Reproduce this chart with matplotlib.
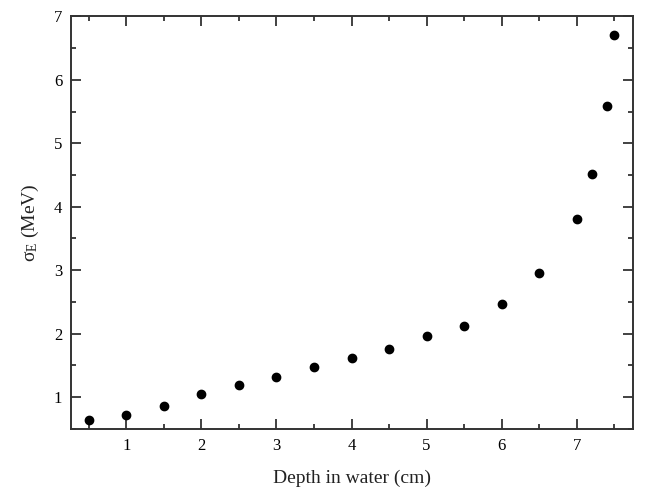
import matplotlib
matplotlib.use("Agg")
import matplotlib.pyplot as plt
from matplotlib.ticker import MultipleLocator

depth = [0.5, 1.0, 1.5, 2.0, 2.5, 3.0, 3.5, 4.0, 4.5, 5.0, 5.5, 6.0, 6.5, 7.0, 7.2, 7.4, 7.5]
sigma_e = [0.63, 0.71, 0.85, 1.05, 1.19, 1.31, 1.48, 1.62, 1.76, 1.96, 2.12, 2.47, 2.96, 3.81, 4.52, 5.58, 6.71]

plt.rcParams.update(
    {
        "font.family": ["Liberation Serif", "DejaVu Serif"],
        "mathtext.fontset": "custom",
        "mathtext.rm": "Liberation Serif",
        "mathtext.it": "Liberation Serif",
    }
)

fig = plt.figure(figsize=(6.52, 4.92), dpi=100)
ax = fig.add_axes([0.1084, 0.1287, 0.862, 0.838])

ax.plot(depth, sigma_e, "o", color="black", markersize=6)

ax.set_xlim(0.26, 7.745)
ax.set_ylim(0.5, 7.0)
ax.xaxis.set_major_locator(MultipleLocator(1))
ax.xaxis.set_minor_locator(MultipleLocator(0.5))
ax.yaxis.set_major_locator(MultipleLocator(1))
ax.yaxis.set_minor_locator(MultipleLocator(0.5))
ax.tick_params(which="both", direction="in", top=True, right=True,
               labelsize=12, color="#333333", width=1.3)
ax.tick_params(axis="x", pad=7)
ax.tick_params(axis="y", pad=6)
ax.tick_params(which="major", length=7)
ax.tick_params(which="minor", length=3.5)
for s in ax.spines.values():
    s.set_linewidth(1.4)
    s.set_color("#333333")

ax.set_xlabel("Depth in water (cm)", fontsize=14, color="#222222", labelpad=11)
ax.set_ylabel(r"$\sigma_{\rm E}$ (MeV)", fontsize=14, color="#222222", labelpad=9)

fig.savefig("out.png", dpi=100)
